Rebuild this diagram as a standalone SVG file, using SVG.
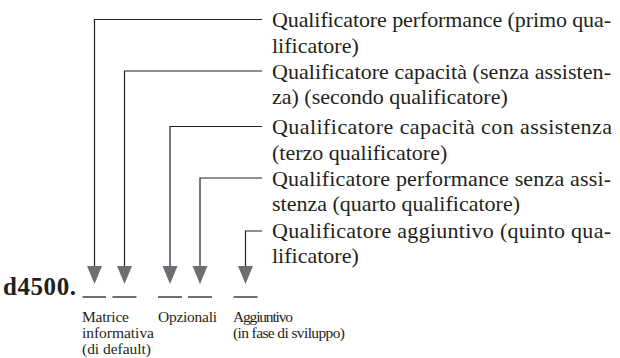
<svg xmlns="http://www.w3.org/2000/svg" width="620" height="358" viewBox="0 0 620 358">
<style>
.t{font-family:"Liberation Serif","Times New Roman",serif;font-size:22px;fill:#231f20}
.s{font-family:"Liberation Serif","Times New Roman",serif;font-size:15.5px;fill:#231f20}
.b{font-family:"Liberation Serif","Times New Roman",serif;font-size:25px;font-weight:bold;fill:#231f20}
.ln{fill:none;stroke:#231f20;stroke-width:1.2}
.ah{fill:#6d6e71}
.us{stroke:#231f20;stroke-width:1.3}
</style>
<rect width="620" height="358" fill="#ffffff"/>
<g id="connectors">
<polyline class="ln" points="262,19.5 94.5,19.5 94.5,267"/>
<polyline class="ln" points="262,71 124.5,71 124.5,267"/>
<polyline class="ln" points="262,126.5 170,126.5 170,267"/>
<polyline class="ln" points="262,178 200,178 200,267"/>
<polyline class="ln" points="262,231 245.5,231 245.5,267"/>
<polygon class="ah" points="87,266 102,266 94.5,284"/>
<polygon class="ah" points="117,266 132,266 124.5,284"/>
<polygon class="ah" points="162.5,266 177.5,266 170,284"/>
<polygon class="ah" points="192.5,266 207.5,266 200,284"/>
<polygon class="ah" points="238,266 253,266 245.5,284"/>
</g>
<g id="q1">
<text class="t" x="272" y="27" textLength="339" lengthAdjust="spacing">Qualificatore performance (primo qua-</text>
<text class="t" x="272" y="52.5">lificatore)</text>
</g>
<g id="q2">
<text class="t" x="272" y="78.5" textLength="339" lengthAdjust="spacing">Qualificatore capacità (senza assisten-</text>
<text class="t" x="272" y="104">za) (secondo qualificatore)</text>
</g>
<g id="q3">
<text class="t" x="272" y="134" textLength="340" lengthAdjust="spacing">Qualificatore capacità con assistenza</text>
<text class="t" x="272" y="159.5">(terzo qualificatore)</text>
</g>
<g id="q4">
<text class="t" x="272" y="185.5" textLength="339" lengthAdjust="spacing">Qualificatore performance senza assi-</text>
<text class="t" x="272" y="211">stenza (quarto qualificatore)</text>
</g>
<g id="q5">
<text class="t" x="272" y="238" textLength="339" lengthAdjust="spacing">Qualificatore aggiuntivo (quinto qua-</text>
<text class="t" x="272" y="263">lificatore)</text>
</g>
<g id="code">
<text class="b" x="3" y="295" textLength="73" lengthAdjust="spacing">d4500.</text>
<line class="us" x1="82.5" y1="297" x2="106" y2="297"/>
<line class="us" x1="112.5" y1="297" x2="136.5" y2="297"/>
<line class="us" x1="158" y1="297" x2="182" y2="297"/>
<line class="us" x1="188" y1="297" x2="212" y2="297"/>
<line class="us" x1="233.5" y1="297" x2="257.5" y2="297"/>
</g>
<g id="label-matrice">
<text class="s" x="82" y="322" textLength="47" lengthAdjust="spacing">Matrice</text>
<text class="s" x="82" y="338" textLength="72" lengthAdjust="spacing">informativa</text>
<text class="s" x="82" y="354" textLength="69" lengthAdjust="spacing">(di default)</text>
</g>
<g id="label-opzionali">
<text class="s" x="158" y="322" textLength="59" lengthAdjust="spacing">Opzionali</text>
</g>
<g id="label-aggiuntivo">
<text class="s" x="233" y="322" textLength="60" lengthAdjust="spacing">Aggiuntivo</text>
<text class="s" x="233" y="338" textLength="112" lengthAdjust="spacing">(in fase di sviluppo)</text>
</g>
</svg>
